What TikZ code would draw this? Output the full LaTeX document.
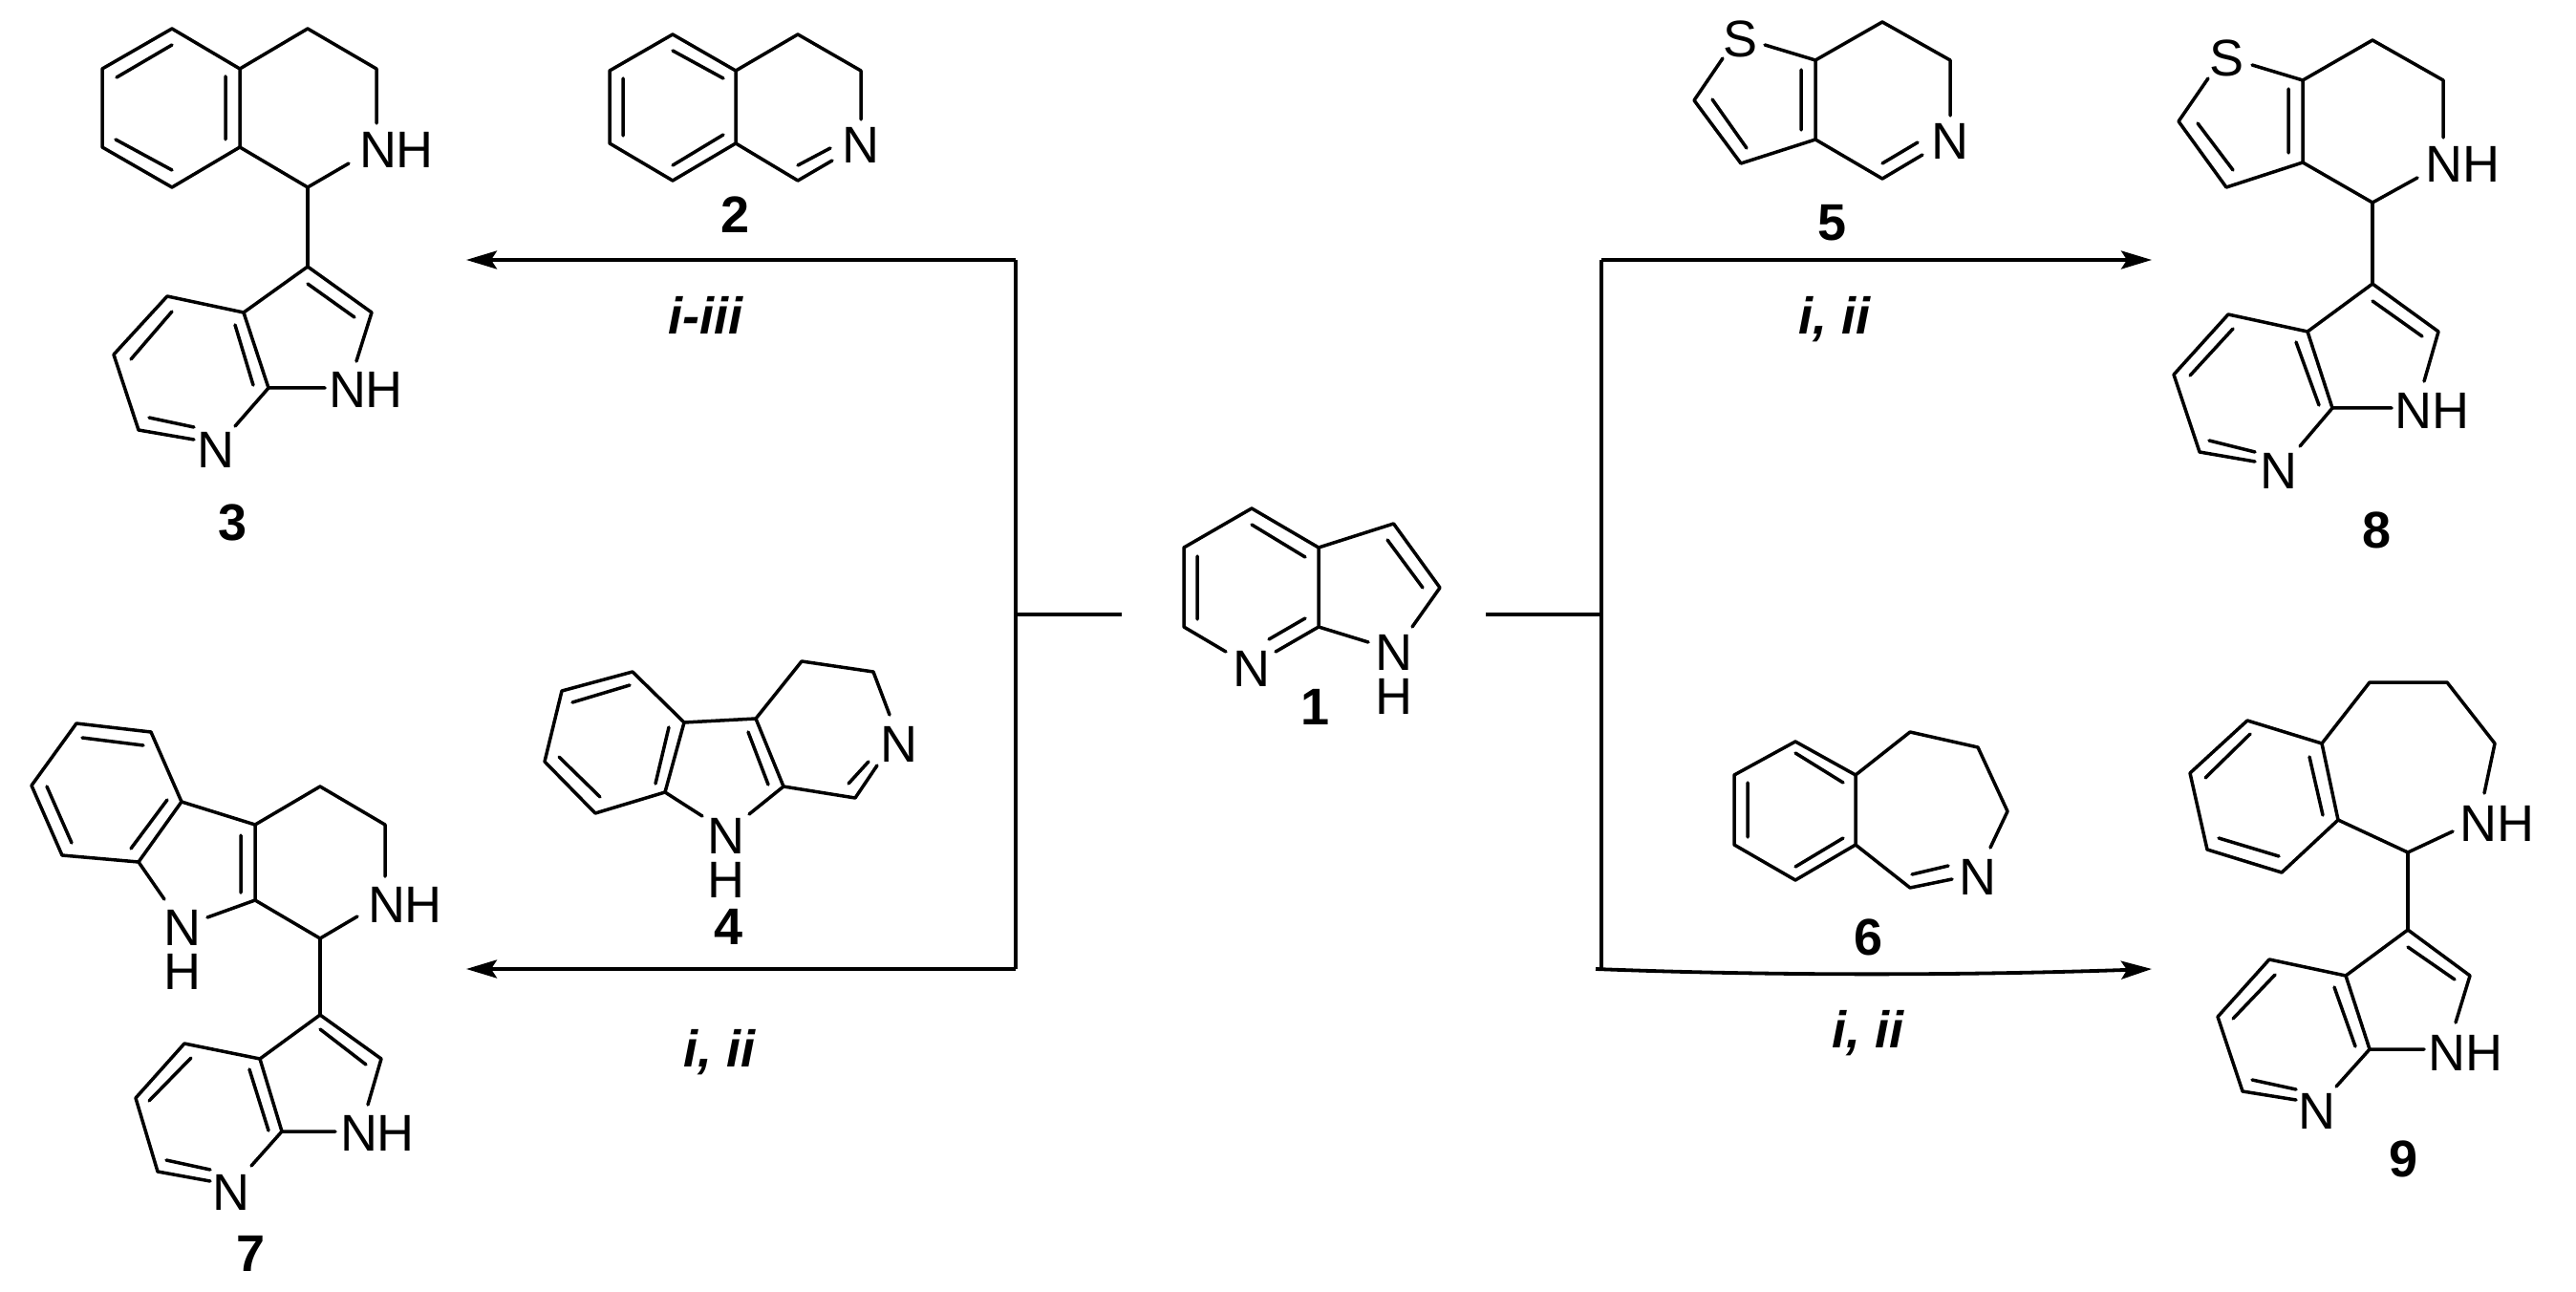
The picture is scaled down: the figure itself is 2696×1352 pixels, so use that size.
\documentclass[tikz,border=0pt]{standalone}
\usepackage{fontspec}
\setmainfont{Liberation Sans}
\usetikzlibrary{arrows.meta}
\tikzset{
  bond/.style={line width=1.75pt,line cap=round,line join=round,black},
  flow/.style={line width=1.9pt,black},
  flowtip/.style={flow,-{Stealth[length=16pt,width=9.5pt,inset=3pt]}},
  atom/.style={inner sep=0pt,font=\fontsize{27}{27}\selectfont,text height=19pt,text depth=0pt},
  atomstack/.style={inner sep=0pt,align=center,font=\fontsize{27}{23}\selectfont},
  cpd/.style={inner sep=0pt,font=\fontsize{27}{27}\selectfont\bfseries,text height=19pt,text depth=0pt},
  cond/.style={inner sep=0pt,font=\fontsize{27}{27}\selectfont\bfseries\itshape,text height=19pt,text depth=0pt}
}
\begin{document}
\begin{tikzpicture}[x=0.5pt,y=-0.5pt]
\fill[white] (0,0) rectangle (2696,1352);
\useasboundingbox (0,0) rectangle (2696,1352);

% ---- flow lines
\coordinate (jl) at (1063,643);
\coordinate (jr) at (1676,643);
\coordinate (jlend) at (1174,643);
\coordinate (jrend) at (1555,643);
\coordinate (lt) at (1063,272);
\coordinate (lb) at (1063,1014);
\coordinate (rt) at (1676,272);
\coordinate (rb) at (1676,1014);
\coordinate (rbs) at (1670,1014);
\coordinate (t3) at (488,272);
\coordinate (t7) at (488,1014);
\coordinate (t8) at (2252,272);
\coordinate (t9) at (2252,1014);
\draw[flow] (jl) -- (jlend);
\draw[flow] (jrend) -- (jr);
\draw[flow] (lt) -- (lb);
\draw[flow] (rt) -- (rb);
\draw[flowtip] (lt) -- (t3);
\draw[flowtip] (lb) -- (t7);
\draw[flowtip] (rt) -- (t8);
\draw[flowtip] (rbs) .. controls (1850,1021) and (2050,1021) .. (t9);

% ---- 1
\draw[bond] (1283,682)--(1239,656)--(1239,573)--(1310,532)--(1380,573)--(1380,656)--(1335,682);
\draw[bond] (1380,573)--(1458.5,548)--(1507,615)--(1478,656);
\draw[bond] (1380,656)--(1432,672);
\draw[bond] (1310,549)--(1366,583) (1253,582)--(1253,648) (1328,669)--(1366,647) (1452,565)--(1489,615);
\node[atom] (a1n) at (1310,699) {N};
\node[atomstack] (a1nh) at (1458.5,706) {N\\H};
\node[cpd] (c1) at (1376,739) {1};

% ---- 2
\draw[bond] (704,36)--(638,74)--(638,150)--(704,189)--(770,150)--(770,74)--cycle;
\draw[bond] (770,74)--(835,36)--(901,74)--(901,125);
\draw[bond] (770,150)--(835,189)--(871,168);
\draw[bond] (835,173)--(869,155) (704,53)--(757,82) (652,82)--(652,142) (704,173)--(757,141);
\node[atom] (a2n) at (901,152) {N};
\node[cpd] (c2) at (770,225) {2};

% ---- 3
\draw[bond] (180,30)--(107,72)--(107,154)--(180,196)--(251,154)--(251,72)--cycle;
\draw[bond] (251,72)--(322,30)--(394,72)--(394,129);
\draw[bond] (251,154)--(322,196)--(365,171);
\draw[bond] (322,196)--(322,279);
\draw[bond] (322,279)--(389,327)--(373,378);
\draw[bond] (322,279)--(255,327)--(281,406)--(340,406);
\draw[bond] (255,327)--(175,310)--(119,371)--(145,450)--(203,460);
\draw[bond] (281,406)--(246,446);
\draw[bond] (180,47)--(122,81) (236,80)--(236,146) (121,146)--(180,178)
  (322,297)--(371,332) (246,340)--(265,403) (180,326)--(137,376) (156,437)--(203,447);
\node[atom] (a3nh) at (415,157) {NH};
\node[atom] (a3nhb) at (383,408) {NH};
\node[atom] (a3n) at (226,470) {N};
\node[cpd] (c3) at (244,546) {3};
\node[cond] (r3) at (738.5,331) {i-iii};

% ---- 4
\draw[bond] (662,703)--(588,723)--(570,797)--(623,851)--(696,829)--(716,756)--cycle;
\draw[bond] (716,756)--(791,752)--(820,823)--(784,852);
\draw[bond] (696,829)--(735,854);
\draw[bond] (791,752)--(839,692)--(914,703)--(931,748);
\draw[bond] (820,823)--(895,835)--(918,801);
\draw[bond] (888,820)--(909,797) (659,717)--(599,735) (585,792)--(628,834) (700,761)--(686,820) (783,766)--(804,821);
\node[atom] (a4n) at (941,778) {N};
\node[atomstack] (a4nh) at (760,898) {N\\H};
\node[cpd] (c4) at (763,969) {4};
\node[cond] (r7) at (753,1097) {i, ii};

% ---- 5
\draw[bond] (1847,47)--(1900,63)--(1900,146)--(1822,171)--(1773,105)--(1803,61);
\draw[bond] (1900,63)--(1970,23)--(2041,63)--(2041,121);
\draw[bond] (1900,146)--(1970,187)--(2012,162);
\draw[bond] (1970,171)--(2007,149) (1885,73)--(1885,136) (1792,104)--(1828,155);
\node[atom] (a5s) at (1821,41) {S};
\node[atom] (a5n) at (2041,148) {N};
\node[cpd] (c5) at (1917,233) {5};
\node[cond] (r8) at (1920,331) {i, ii};

% ---- 6
\draw[bond] (1879,776)--(1815,811)--(1815,884)--(1879,921)--(1942,884)--(1942,811)--cycle;
\draw[bond] (1942,811)--(1999,766)--(2070,782)--(2101,849)--(2083,887);
\draw[bond] (1942,884)--(1999,929)--(2043,920);
\draw[bond] (2001,915)--(2039,906) (1879,788)--(1929,819) (1829,819)--(1829,876) (1879,907)--(1929,877);
\node[atom] (a6n) at (2070,917) {N};
\node[cpd] (c6) at (1955,980) {6};
\node[cond] (r9) at (1955,1077) {i, ii};

% ---- 7
\draw[bond] (80,757)--(158,766)--(190,839)--(145,902)--(65,895)--(33,822)--cycle;
\draw[bond] (190,839)--(267,863)--(267,942)--(217,960);
\draw[bond] (145,902)--(172,941);
\draw[bond] (267,863)--(335,823)--(403,863)--(403,917);
\draw[bond] (267,942)--(335,982)--(374,959);
\draw[bond] (335,982)--(335,1062);
\draw[bond] (335,1062)--(399,1108)--(385,1156);
\draw[bond] (335,1062)--(272,1108)--(295,1184)--(351,1184);
\draw[bond] (272,1108)--(193,1092)--(142,1149)--(165,1226)--(220,1236);
\draw[bond] (295,1184)--(263,1220);
\draw[bond] (86,772)--(150,780) (49,823)--(75,882) (175,837)--(137,888) (252,874)--(252,934)
  (335,1077)--(383,1114) (261,1119)--(281,1183) (200,1107)--(156,1152) (174,1214)--(220,1224);
\node[atom] (a7nh) at (424,946) {NH};
\node[atomstack] (a7in) at (191,994) {N\\H};
\node[atom] (a7nhb) at (395,1185) {NH};
\node[atom] (a7n) at (242,1247) {N};
\node[cpd] (c7) at (263,1311) {7};

% ---- 8
\draw[bond] (2357,68)--(2410,84)--(2410,170)--(2330,196)--(2280,127)--(2311,82);
\draw[bond] (2410,84)--(2483,42)--(2557,84)--(2557,144);
\draw[bond] (2410,170)--(2483,212)--(2530,186);
\draw[bond] (2483,212)--(2483,297);
\draw[bond] (2483,297)--(2552,347)--(2537,399);
\draw[bond] (2483,297)--(2415,347)--(2441,427)--(2503,427);
\draw[bond] (2415,347)--(2332,329)--(2275,392)--(2302,473)--(2360,483);
\draw[bond] (2441,427)--(2407,467);
\draw[bond] (2300,129)--(2337,178) (2395,93)--(2395,160) (2483,315)--(2535,352)
  (2403,358)--(2427,424) (2337,344)--(2292,393) (2312,461)--(2360,473);
\node[atom] (a8s) at (2330,61) {S};
\node[atom] (a8nh) at (2577,172) {NH};
\node[atom] (a8nhb) at (2545,430) {NH};
\node[atom] (a8n) at (2385,492) {N};
\node[cpd] (c8) at (2487,554) {8};

% ---- 9
\draw[bond] (2352,754)--(2292,809)--(2310,889)--(2388,913)--(2447,858)--(2430,778)--cycle;
\draw[bond] (2430,778)--(2480,714)--(2561,714)--(2611,778)--(2600,830);
\draw[bond] (2447,858)--(2520,892)--(2567,870);
\draw[bond] (2520,892)--(2520,973);
\draw[bond] (2520,973)--(2585,1021)--(2570,1070);
\draw[bond] (2520,973)--(2455,1021)--(2480,1098)--(2537,1098);
\draw[bond] (2455,1021)--(2375,1004)--(2321,1064)--(2347,1142)--(2403,1151);
\draw[bond] (2480,1098)--(2445,1137);
\draw[bond] (2355,768)--(2308,814) (2417,792)--(2431,853) (2322,877)--(2385,896)
  (2520,991)--(2569,1025) (2443,1033)--(2465,1095) (2381,1020)--(2337,1066) (2357,1130)--(2403,1140);
\node[atom] (a9nh) at (2613,861) {NH};
\node[atom] (a9nhb) at (2580,1101) {NH};
\node[atom] (a9n) at (2425,1162) {N};
\node[cpd] (c9) at (2515,1212) {9};
\end{tikzpicture}
\end{document}
